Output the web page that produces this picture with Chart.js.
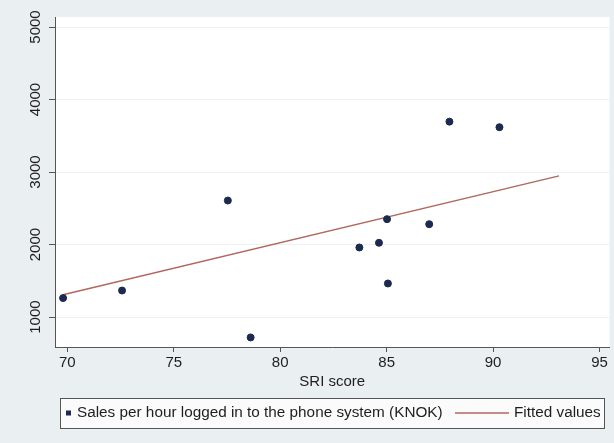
<!DOCTYPE html>
<html lang="en">
<head>
    <meta charset="UTF-8">
    <title>SRI score vs sales</title>
    <style>
        html, body { margin: 0; padding: 0; background: #eaeff1; }
        #wrap { width: 614px; height: 443px; }
    </style>
    <script src="https://cdn.jsdelivr.net/npm/chart.js"></script>
</head>
<body>
    <div id="wrap"><canvas id="myChart" width="614" height="443"></canvas></div>
    <script>
        // data
        const sriScore = [69.8, 72.57, 77.54, 78.61, 83.72, 84.64, 85.02, 85.06, 87.0, 87.95, 90.3];
        const salesPerHour = [1262, 1366, 2607, 719, 1959, 2024, 2350, 1463, 2281, 3695, 3618];
        const fitX = [69.8, 93.1];
        const fitY = [1307, 2947];
        const xTicks = [70, 75, 80, 85, 90, 95];
        const yTicks = [1000, 2000, 3000, 4000, 5000];

        const FONT = '"Liberation Sans", Arial, sans-serif';
        const TEXT = '#1e1e1e';
        const AXIS = '#555';

        const bgPlugin = {
            id: 'bg',
            beforeDraw(chart) {
                const { ctx, chartArea: a } = chart;
                ctx.save();
                ctx.fillStyle = '#eaeff1';
                ctx.fillRect(0, 0, chart.width, chart.height);
                ctx.fillStyle = '#ffffff';
                ctx.fillRect(a.left, a.top, a.right - a.left, a.bottom - a.top);
                ctx.restore();
            }
        };

        const labelsPlugin = {
            id: 'labels',
            afterDraw(chart) {
                const { ctx, chartArea: a } = chart;
                const y = chart.scales.y;
                ctx.save();
                ctx.fillStyle = TEXT;
                ctx.font = '15px ' + FONT;
                ctx.textAlign = 'center';
                ctx.textBaseline = 'middle';
                // rotated y tick labels
                yTicks.forEach(v => {
                    const py = y.getPixelForValue(v);
                    ctx.save();
                    ctx.translate(36, py);
                    ctx.rotate(-Math.PI / 2);
                    ctx.fillText(String(v), 0, 0);
                    ctx.restore();
                });
                // x axis title
                ctx.fillText('SRI score', (a.left + a.right) / 2, 382);

                // legend box
                const lx = 60, ly = 398, lw = 544, lh = 30;
                ctx.fillStyle = '#fbfbfb';
                ctx.fillRect(lx, ly, lw, lh);
                ctx.strokeStyle = AXIS;
                ctx.lineWidth = 1;
                ctx.strokeRect(lx + 0.5, ly + 0.5, lw, lh);
                const my = ly + lh / 2;
                const ds = chart.data.datasets;
                ctx.fillStyle = ds[0].backgroundColor;
                ctx.fillRect(66, my - 2.5, 5, 5);
                ctx.fillStyle = TEXT;
                ctx.textAlign = 'left';
                ctx.font = '15.3px ' + FONT;
                ctx.fillText(ds[0].label, 77, my);
                ctx.strokeStyle = ds[1].borderColor;
                ctx.lineWidth = 1.5;
                ctx.beginPath();
                ctx.moveTo(455, my);
                ctx.lineTo(509, my);
                ctx.stroke();
                ctx.fillText(ds[1].label, 514, my);
                ctx.restore();
            }
        };

        const ctx = document.getElementById('myChart').getContext('2d');
        const myChart = new Chart(ctx, {
            type: 'scatter',
            data: {
                datasets: [{
                    label: 'Sales per hour logged in to the phone system (KNOK)',
                    data: sriScore.map((x, i) => ({ x: x, y: salesPerHour[i] })),
                    backgroundColor: '#1c2a4f',
                    borderColor: '#1c2a4f',
                    pointRadius: 3.5,
                    pointHoverRadius: 3.5
                }, {
                    type: 'line',
                    label: 'Fitted values',
                    data: fitX.map((x, i) => ({ x: x, y: fitY[i] })),
                    borderColor: '#b0685e',
                    borderWidth: 1.5,
                    pointRadius: 0,
                    fill: false
                }]
            },
            options: {
                responsive: false,
                animation: false,
                events: [],
                layout: { padding: { left: 0, right: 4, top: 17, bottom: 0 } },
                plugins: {
                    legend: { display: false },
                    tooltip: { enabled: false }
                },
                scales: {
                    x: {
                        type: 'linear',
                        min: 69.42,
                        max: 95.47,
                        afterBuildTicks: s => { s.ticks = xTicks.map(v => ({ value: v })); },
                        afterFit: s => { s.height = 96; },
                        border: { color: AXIS, width: 1 },
                        grid: { color: 'transparent', tickColor: AXIS, tickLength: 5, drawOnChartArea: false },
                        ticks: { color: TEXT, padding: 2, font: { family: FONT, size: 15 }, maxRotation: 0 }
                    },
                    y: {
                        type: 'linear',
                        min: 587,
                        max: 5138,
                        afterBuildTicks: s => { s.ticks = yTicks.map(v => ({ value: v })); },
                        afterFit: s => { s.width = 55; },
                        border: { color: AXIS, width: 1 },
                        grid: { color: '#eef1f1', tickColor: AXIS, tickLength: 6 },
                        ticks: { display: false }
                    }
                }
            },
            plugins: [bgPlugin, labelsPlugin]
        });
    </script>
</body>
</html>
